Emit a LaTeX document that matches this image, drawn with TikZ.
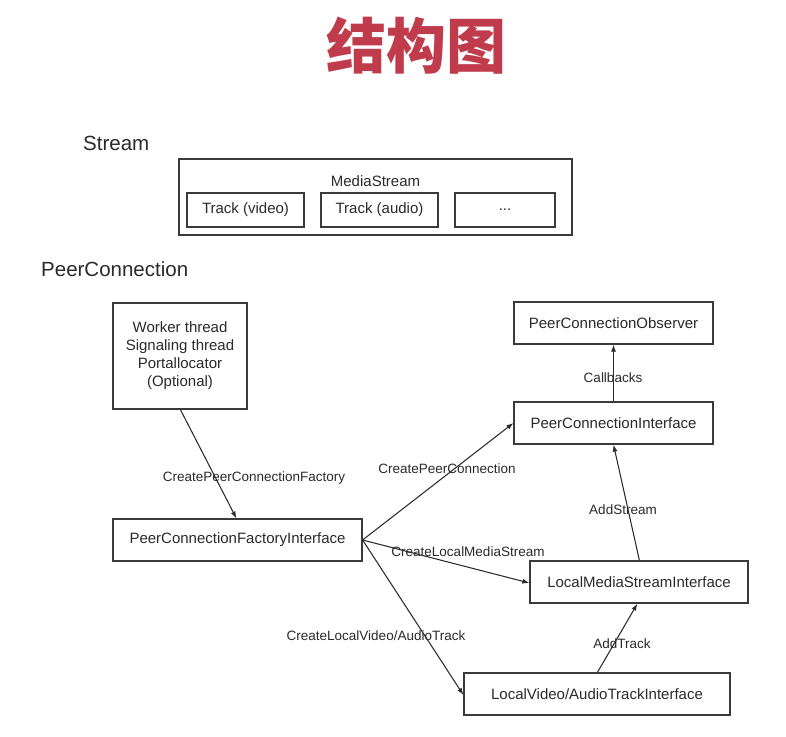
\documentclass[tikz,border=0pt]{standalone}
\usepackage{fontspec}
\setmainfont{Liberation Sans}
\newfontfamily\cjk{Noto Sans CJK SC}
\usetikzlibrary{arrows.meta}
\definecolor{titlered}{HTML}{C03C4C}
\definecolor{ink}{HTML}{2A2A2A}
\definecolor{edge}{HTML}{3A3A3A}
\begin{document}
\begin{tikzpicture}[x=1pt,y=-1pt,
  box/.style={draw=edge,line width=1.2pt,inner sep=0pt,text=ink,font=\fontsize{15}{18}\selectfont},
  lbl/.style={text=ink,font=\fontsize{13.5}{16}\selectfont,inner sep=0pt},
  head/.style={text=ink,font=\fontsize{20.5}{24}\selectfont,anchor=west,inner sep=0pt},
  conn/.style={draw=ink,line width=1.05pt,-{Latex[length=7pt,width=5pt]}}]
\useasboundingbox[fill=white] (0,0) rectangle (786,736);
\node[text=titlered,font=\cjk\bfseries\fontsize{60}{64}\selectfont,inner sep=0pt] (title) at (416,46) {结构图};
\node[head] (stream) at (83,143) {Stream};
\node[head] (pc) at (41,269) {PeerConnection};
% MediaStream
\node[box,minimum width=393pt,minimum height=76pt] (ms) at (375.5,197) {};
\node[text=ink,font=\fontsize{15}{18}\selectfont,inner sep=0pt] (mslbl) at (375.5,181) {MediaStream};
\node[box,minimum width=117pt,minimum height=34pt] (tv) at (245.5,210) {Track (video)};
\node[box,minimum width=117pt,minimum height=34pt] (ta) at (379.5,210) {Track (audio)};
\node[box,minimum width=100pt,minimum height=34pt] (tdots) at (505,210) {...};
% PeerConnection nodes
\node[box,minimum width=134pt,minimum height=106pt,align=center] (worker) at (180,356)
  {\fontsize{15}{17.3}\selectfont Worker thread\\Signaling thread\\Portallocator\\(Optional)};
\node[box,minimum width=249pt,minimum height=42pt] (factory) at (237.5,540) {PeerConnectionFactoryInterface};
\node[box,minimum width=199pt,minimum height=42pt] (observer) at (613.5,323) {PeerConnectionObserver};
\node[box,minimum width=199pt,minimum height=42pt] (pci) at (613.5,423) {PeerConnectionInterface};
\node[box,minimum width=218pt,minimum height=42pt] (lmsi) at (639,582) {LocalMediaStreamInterface};
\node[box,minimum width=266pt,minimum height=42pt] (lvat) at (597,694) {LocalVideo/AudioTrackInterface};
% coordinates on borders
\path (worker.south west) ++(68pt,0) coordinate (wb);
\path (factory.north west) ++(124pt,0) coordinate (ft);
\path (lmsi.north west) ++(110pt,0) coordinate (lt);
\path (lmsi.south west) ++(108pt,0) coordinate (lb);
\path (lvat.north west) ++(134pt,0) coordinate (vt);
\path (pci.south) coordinate (pb);
% connectors
\draw[conn] (wb) -- (ft);
\draw[conn] (factory.east) -- (pci.west);
\draw[conn] (factory.east) -- ([yshift=-1pt]lmsi.west);
\draw[conn] (factory.east) -- ([yshift=-1pt]lvat.west);
\draw[conn] (vt) -- (lb);
\draw[conn] (lt) -- (pb);
\draw[conn] (pci.north) -- (observer.south);
% labels
\node[lbl] (l1) at (254,478) {CreatePeerConnectionFactory};
\node[lbl] (l2) at (447,469) {CreatePeerConnection};
\node[lbl] (l3) at (468,552) {CreateLocalMediaStream};
\node[lbl] (l4) at (376,636) {CreateLocalVideo/AudioTrack};
\node[lbl] (l5) at (622,644) {AddTrack};
\node[lbl] (l6) at (623,510) {AddStream};
\node[lbl] (l7) at (613,378) {Callbacks};
\end{tikzpicture}
\end{document}
